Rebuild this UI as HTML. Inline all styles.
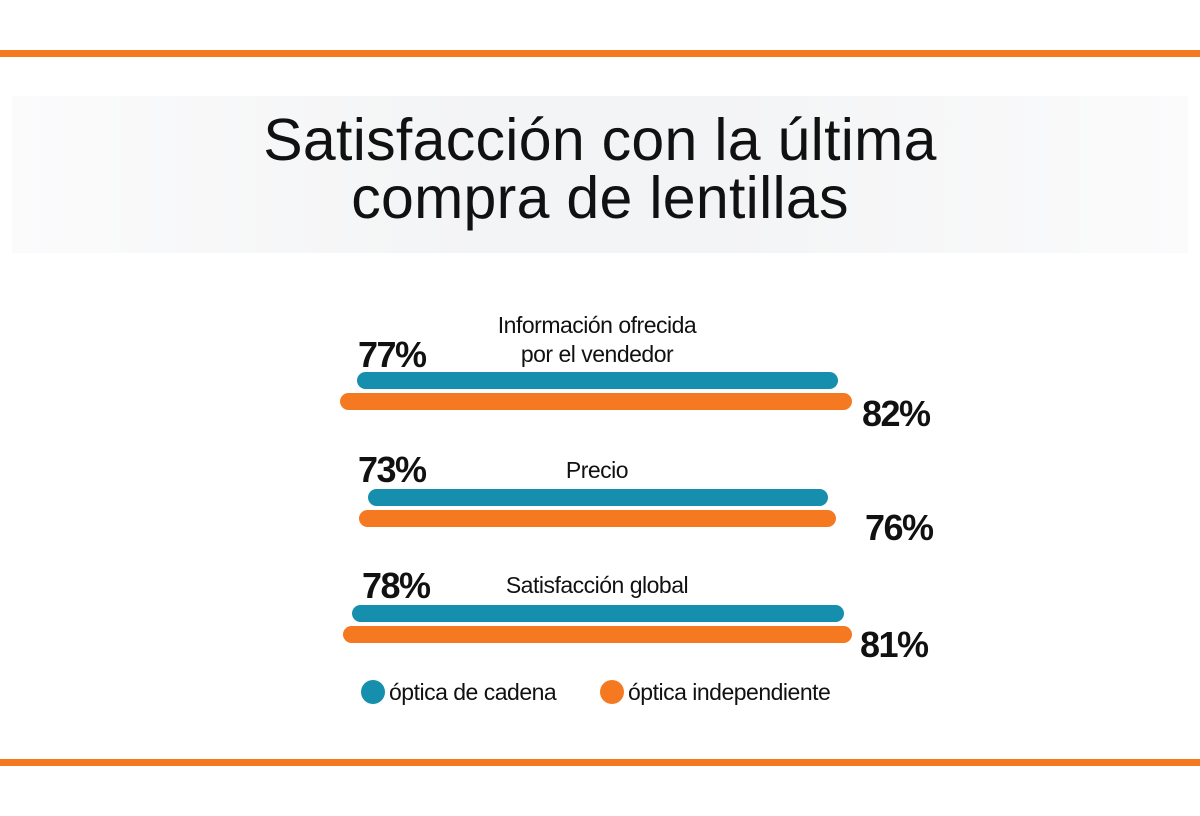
<!DOCTYPE html>
<html><head><meta charset="utf-8"><style>
html,body{margin:0;padding:0;background:#fff;}
body{width:1200px;height:816px;position:relative;overflow:hidden;font-family:"Liberation Sans",sans-serif;}
.line{position:absolute;left:0;width:1200px;height:7px;background:#f47920;}
.band{position:absolute;left:12px;top:96px;width:1176px;height:157px;background:linear-gradient(90deg,#fbfbfc,#f3f4f5 40%,#f3f4f5 60%,#fbfbfc);}
.title{position:absolute;left:0;width:1200px;top:111px;text-align:center;font-size:59px;line-height:58px;color:#111;letter-spacing:0.3px;}
.bar{position:absolute;height:17px;border-radius:9px;}
.b{background:#168fae;} .o{background:#f47920;}
.pct{position:absolute;font-family:"Liberation Sans Narrow","Liberation Sans",sans-serif;font-weight:bold;font-size:36px;color:#111;letter-spacing:-1.5px;line-height:1;}
.lab{position:absolute;font-family:"Liberation Sans Narrow","Liberation Sans",sans-serif;font-size:23px;color:#111;text-align:center;line-height:29px;letter-spacing:-0.5px;}
.dot{position:absolute;width:24px;height:24px;border-radius:50%;}
</style></head><body>
<div class="line" style="top:50px"></div>
<div class="band"></div>
<div class="title">Satisfacción con la última<br>compra de lentillas</div>

<div class="lab" style="left:447px;width:300px;top:311px">Información ofrecida<br>por el vendedor</div>
<div class="pct" style="left:358px;top:337px">77%</div>
<div class="bar b" style="left:357px;top:372px;width:481px"></div>
<div class="bar o" style="left:340px;top:393px;width:512px"></div>
<div class="pct" style="left:862px;top:396px">82%</div>

<div class="lab" style="left:447px;width:300px;top:456px">Precio</div>
<div class="pct" style="left:358px;top:452px">73%</div>
<div class="bar b" style="left:368px;top:489px;width:460px"></div>
<div class="bar o" style="left:359px;top:510px;width:477px"></div>
<div class="pct" style="left:865px;top:510px">76%</div>

<div class="lab" style="left:447px;width:300px;top:571px">Satisfacción global</div>
<div class="pct" style="left:362px;top:568px">78%</div>
<div class="bar b" style="left:352px;top:605px;width:492px"></div>
<div class="bar o" style="left:343px;top:626px;width:509px"></div>
<div class="pct" style="left:860px;top:627px">81%</div>

<div class="dot b" style="left:361px;top:680px"></div>
<div class="lab" style="left:389px;top:678px;text-align:left">óptica de cadena</div>
<div class="dot o" style="left:600px;top:680px"></div>
<div class="lab" style="left:628px;top:678px;text-align:left">óptica independiente</div>

<div class="line" style="top:759px"></div>
</body></html>
